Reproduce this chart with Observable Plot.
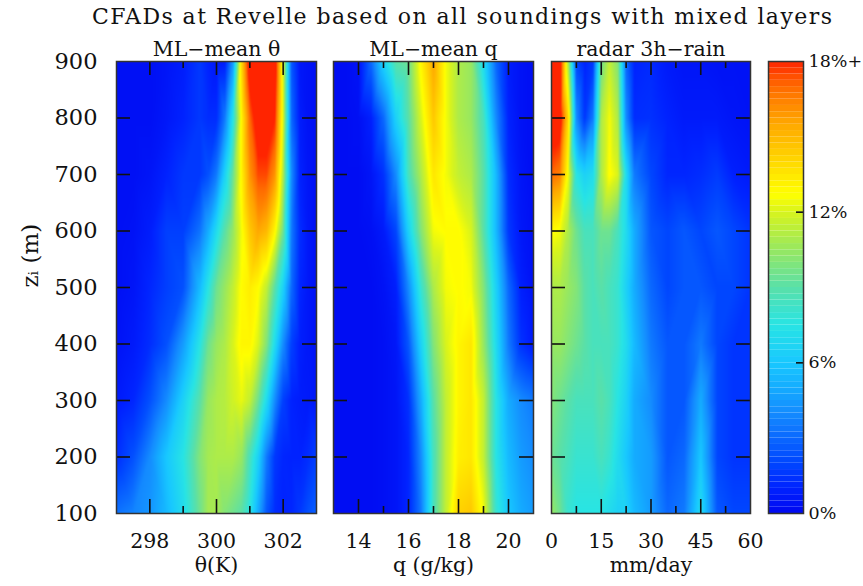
<!DOCTYPE html>
<html><head><meta charset="utf-8">
<script src="https://cdn.jsdelivr.net/npm/d3@7"></script>
<script src="https://cdn.jsdelivr.net/npm/@observablehq/plot@0.6"></script>
<style>
body{margin:0;background:#fff;}
#wrap{position:relative;width:863px;height:586px;background:#fff;overflow:hidden;}
#wrap svg{position:absolute;left:0;top:0;}
</style></head><body><div id="wrap"></div>
<script>
// ---------- data ----------
const titleText = "CFADs at Revelle based on all soundings with mixed layers";
const zLevels = [900, 800, 700, 600, 500, 400, 300, 200, 100];
const zTicks = [200, 300, 400, 500, 600, 700, 800];
const zLabels = [100, 200, 300, 400, 500, 600, 700, 800, 900];

const thetaBins = [297, 297.5, 298, 298.5, 299, 299.5, 299.75, 300, 300.25, 300.5, 300.75, 301, 301.25, 301.5, 301.75, 302, 302.25, 302.5, 302.75, 303];
const thetaFreq = [
  [0.3,0.3,0.3,0.5,0.8,1.6,1.0,0.6,0.8,4.5,14,19,20,20,19,12,2.5,0.6,0.4,0.3],
  [0.3,0.3,0.3,0.6,1.0,1.6,1.3,1.3,3.5,7.5,13,17,19,19,18,12,3,0.8,0.4,0.3],
  [0.3,0.3,0.5,1.0,1.6,1.6,2.3,3.5,6.5,9.5,13,16,17.5,17.5,16,11,4,1.0,0.5,0.3],
  [0.3,0.4,0.8,1.8,1.8,3.3,5,7,9,10.5,12.5,14.5,15.5,15,13,9.5,3.5,1.3,0.6,0.3],
  [0.3,0.5,1.1,1.8,2.3,5.5,7.5,9.5,10.5,11.5,12.8,13.3,12.8,11.5,9,6.5,3,1.1,0.6,0.4],
  [0.4,0.7,1.3,2.3,4.5,7.5,9.5,10.5,11,12,13,13,12,10,7,4,1.8,0.9,0.6,0.4],
  [0.7,1.1,2.3,4,6.5,9,10.5,11,11.2,11.8,12.3,11.5,9.5,7,4,1.8,1.0,0.8,0.7,0.6],
  [1.3,2.3,4,6,7.5,10,10.8,11,11,11,10.5,8.5,6.5,3.5,1.6,1.1,1.0,1.0,1.3,1.8],
  [3.3,3.8,4.3,5.5,7,9.5,10.8,10.8,10,9.5,9,7.5,5,2.5,1.3,1.0,1.1,1.6,2.3,2.8]
];

const qBins = [13, 13.5, 14, 14.5, 15, 15.5, 16, 16.5, 17, 17.5, 18, 18.5, 19, 19.5, 20, 20.5, 21];
const qFreq = [
  [0.2,0.2,0.4,3,6.5,9,9.5,13,15.5,12.5,11,10.5,7,3,0.8,0.4,0.2],
  [0.2,0.2,0.3,0.9,3,6.5,9,12,14.5,12.5,11,10.5,8.5,4,1.0,0.4,0.2],
  [0.2,0.2,0.2,0.5,1.4,4,8.5,11,13.5,12.5,11.5,11,9,5.5,1.3,0.5,0.2],
  [0.2,0.2,0.2,0.3,0.7,2,6.5,10,12.5,12.8,12.8,12,9,5.5,1.6,0.6,0.3],
  [0.2,0.2,0.2,0.2,0.4,0.9,4,8,11,12.5,12.8,12.5,10,6.5,3,0.9,0.4],
  [0.2,0.2,0.2,0.2,0.3,0.6,2.5,6.5,10,12,13,13.5,10.5,7,3.5,1.4,0.7],
  [0.2,0.2,0.2,0.2,0.3,0.5,1.4,5,9,11.5,13,13.5,11.5,7.5,5,4,3.5],
  [0.2,0.2,0.2,0.2,0.3,0.5,1.1,4,8.5,11.5,13.2,13.5,11.5,7.5,5.5,4.5,4],
  [0.2,0.2,0.2,0.2,0.3,0.5,1.1,3.5,8.5,11.5,14.2,14.5,12.5,8,6,5,4.5]
];

const rainBins = [0, 2.5, 5, 7.5, 10, 12.5, 15, 17.5, 20, 22.5, 25, 30, 35, 40, 45, 50, 55, 60];
const rainFreq = [
  [19,19,11,2,1.0,1.6,9.5,11.5,10,3,1.0,1.2,0.7,0.5,0.5,0.4,0.4,0.4],
  [19,19,14,4,1.6,3.5,11,12.5,11,4,1.3,1.4,1.0,0.7,0.7,0.7,0.5,0.4],
  [17,16.5,12.5,7.5,6.5,7,11,12.8,12,7,3.5,2,1.1,1.1,1.3,1.7,0.9,0.7],
  [12.8,12.5,11,9.5,8.5,8.5,9.5,9.5,8.5,7,5,2.5,2,2.5,2,2.5,2,1.5],
  [11,11,10.5,10,9,8.5,9,8.5,8,6.5,5,3,2,2.5,2.5,2,2,1.5],
  [10.5,10.5,10,9.5,9,8.5,8.5,8.5,8,7,5.5,3.5,2.5,2.5,3.5,2,1.5,1.5],
  [10,9.5,9,8.5,8.5,8.5,9,8.5,7.5,6.5,5,4,2.5,2.5,5,2,1.5,1.5],
  [9.5,9,8.5,8,8,8,8.5,8,7,6,5,4.5,2.5,3,6,2,1.5,1.5],
  [10.5,9.5,8,7.5,7.5,7.5,7.5,7,6.5,6.5,5.5,4.5,3,3.5,7,2.5,2,2]
];

const thetaMajor = [298, 300, 302], thetaMinor = [299, 301];
const qMajor = [14, 16, 18, 20], qMinor = [15, 17, 19];
const rainMajor = [15, 30, 45], rainMinor = [7.5, 22.5, 37.5, 52.5];
const thetaLabels = [298, 300, 302];
const qLabels = [14, 16, 18, 20];
const rainLabels = [0, 15, 30, 45, 60];
const cbTicks = [0, 6, 12, 18];
const cbInner = [6, 12];

// ---------- colour map ----------
const cStops = [0, 1, 2, 3, 4, 5, 6, 7.5, 9, 10.5, 12, 12.7, 14, 15.5, 17, 18];
const cColors = ["#0008f0","#0022ff","#0046ff","#0a68ff","#148cff","#14acff","#18c8ff","#28e4e4","#5ae0a8","#98e860","#d8f41c","#ffff00","#ffd800","#ffa800","#ff6a00","#ff2400"];
const cmap = d3.scaleLinear().domain(cStops).range(cColors).clamp(true);
const colorOpt = {type: "linear", domain: [0, 18], interpolate: t => cmap(t * 18), clamp: true};

const FONT = "DejaVu Serif";
const TOP = 61, BOTTOM = 513, H = BOTTOM - TOP;
const wrap = document.getElementById("wrap");

function makePanel(cfg) {
  const W = cfg.right - cfg.left;
  const pts = [];
  cfg.freq.forEach((row, i) => row.forEach((v, j) => pts.push({x: cfg.bins[j], z: zLevels[i], v})));
  const tk = {stroke: "#111", strokeWidth: 1.6};
  const marks = [
    Plot.raster(pts, {x: "x", y: "z", fill: "v", interpolate: "barycentric"}),
    Plot.tickX(cfg.major, {x: d => d, insetTop: H - 14, ...tk}),
    Plot.tickX(cfg.major, {x: d => d, insetBottom: H - 14, ...tk}),
    Plot.tickX(cfg.minor, {x: d => d, insetTop: H - 7, ...tk}),
    Plot.tickX(cfg.minor, {x: d => d, insetBottom: H - 7, ...tk}),
    Plot.tickY(zTicks, {y: d => d, insetRight: W - 14, ...tk}),
    Plot.tickY(zTicks, {y: d => d, insetLeft: W - 14, ...tk}),
    Plot.frame({stroke: "#333", strokeWidth: 1.5}),
    Plot.axisX(cfg.labels, {anchor: "bottom", tickSize: 0, tickPadding: 20, fontSize: 20.5, label: null}),
    Plot.text([cfg.title], {frameAnchor: "top", dy: -20, fontSize: 20.5, text: d => d}),
    Plot.text([cfg.xlabel], {frameAnchor: "bottom", dy: 58, fontSize: 20.5, text: d => d})
  ];
  if (cfg.yAxis) {
    marks.push(Plot.axisY(zLabels, {tickSize: 0, tickPadding: 19, fontSize: 22.5, label: null}));
    marks.push(Plot.text(["zᵢ (m)"], {frameAnchor: "left", dx: -86, rotate: -90, fontSize: 23, text: d => d}));
  }
  const p = Plot.plot({
    width: 863, height: 586,
    marginLeft: cfg.left, marginRight: 863 - cfg.right, marginTop: TOP, marginBottom: 586 - BOTTOM,
    x: {domain: cfg.domain},
    y: cfg.yAxis ? {domain: [100, 900]} : {domain: [100, 900], axis: null},
    color: colorOpt,
    style: {fontFamily: FONT, background: "transparent", overflow: "visible", color: "#111"},
    marks
  });
  wrap.appendChild(p);
}

makePanel({bins: thetaBins, freq: thetaFreq, domain: [297, 303], left: 116, right: 316,
  major: thetaMajor, minor: thetaMinor, labels: thetaLabels, title: "ML−mean θ", xlabel: "θ(K)", yAxis: true});
makePanel({bins: qBins, freq: qFreq, domain: [13, 21], left: 333, right: 533,
  major: qMajor, minor: qMinor, labels: qLabels, title: "ML−mean q", xlabel: "q (g/kg)", yAxis: false});
makePanel({bins: rainBins, freq: rainFreq, domain: [0, 60], left: 551, right: 750,
  major: rainMajor, minor: rainMinor, labels: rainLabels, title: "radar 3h−rain", xlabel: "mm/day", yAxis: false});

// colour bar
const cbStep = 0.25;
const cbLevels = d3.range(0, 18, cbStep);
const cbW = 803 - 768;
const cb = Plot.plot({
  width: 863, height: 586,
  marginLeft: 768, marginRight: 863 - 803, marginTop: TOP, marginBottom: 586 - BOTTOM,
  x: {domain: [0, 1], axis: null},
  y: {domain: [0, 18]},
  color: colorOpt,
  style: {fontFamily: FONT, background: "transparent", overflow: "visible", color: "#111"},
  marks: [
    Plot.rect(cbLevels, {x1: 0, x2: 1, y1: d => d, y2: d => d + cbStep, fill: d => d + cbStep / 2}),
    Plot.tickY(cbInner, {y: d => d, insetLeft: cbW - 7, stroke: "#111", strokeWidth: 1.6}),
    Plot.frame({stroke: "#333", strokeWidth: 1.5}),
    Plot.axisY(cbTicks, {anchor: "right", tickSize: 0, tickPadding: 5, fontSize: 17.5, label: null,
      tickFormat: d => d === 18 ? "18%+" : d + "%"})
  ]
});
wrap.appendChild(cb);

// title
const tsvg = d3.create("svg").attr("width", 863).attr("height", 40).style("overflow", "visible");
tsvg.append("text").attr("x", 462).attr("y", 24).attr("text-anchor", "middle")
  .attr("font-family", FONT).attr("font-size", 22).attr("fill", "#111")
  .attr("textLength", 740).attr("lengthAdjust", "spacing").text(titleText);
wrap.appendChild(tsvg.node());
</script></body></html>
